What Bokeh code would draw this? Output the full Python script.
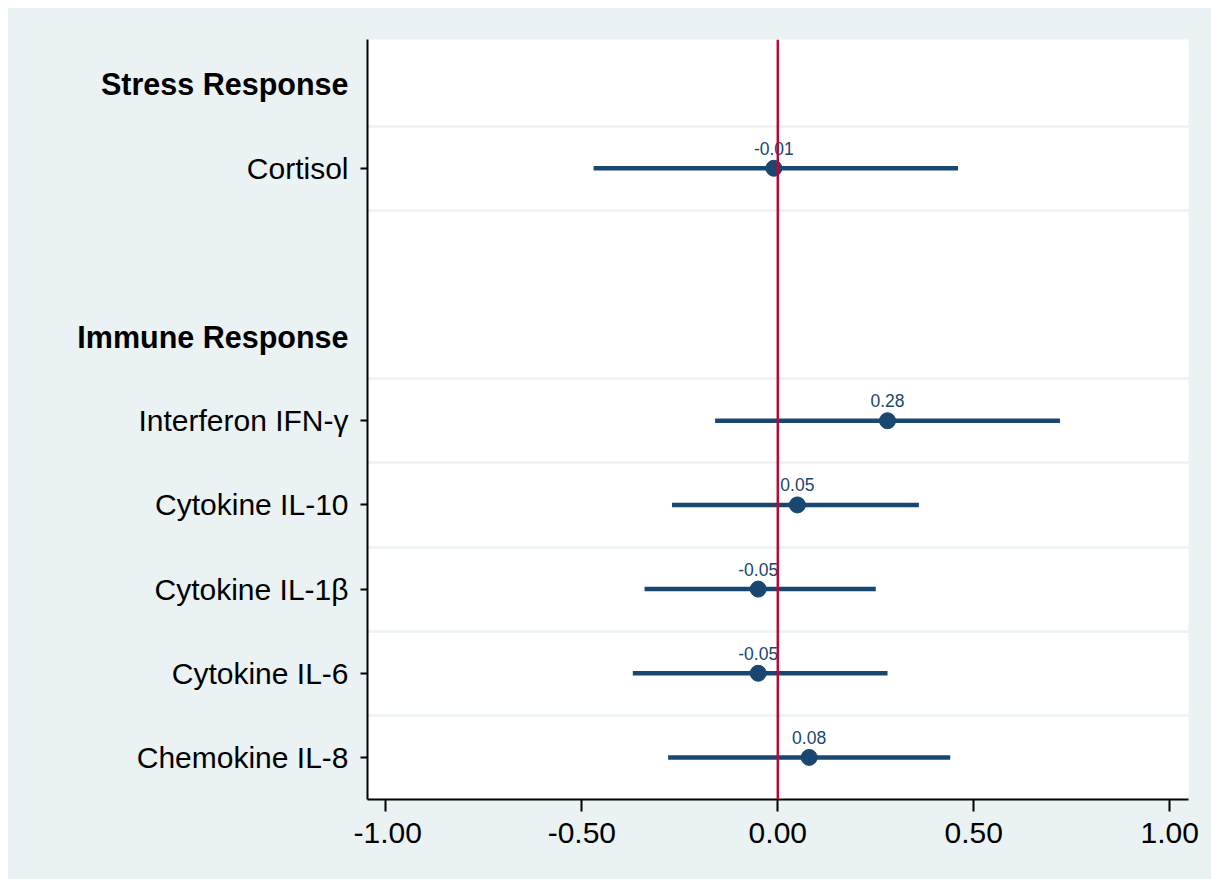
from bokeh.plotting import figure
from bokeh.layouts import row
from bokeh.models import FixedTicker, Span, ColumnDataSource, Range1d
from bokeh.core.properties import value
from bokeh.embed import file_html
from bokeh.resources import INLINE

# ---- data ----
rows = ["Stress Response", "Cortisol", "", "Immune Response",
        "Interferon IFN-γ", "Cytokine IL-10", "Cytokine IL-1β",
        "Cytokine IL-6", "Chemokine IL-8"]
headers = ["Stress Response", "Immune Response"]
items = ["Cortisol", "Interferon IFN-γ", "Cytokine IL-10", "Cytokine IL-1β",
         "Cytokine IL-6", "Chemokine IL-8"]
estimate = [-0.01, 0.28, 0.05, -0.05, -0.05, 0.08]
ci_low = [-0.47, -0.16, -0.27, -0.34, -0.37, -0.28]
ci_high = [0.46, 0.72, 0.36, 0.25, 0.28, 0.44]
est_labels = ["-0.01", "0.28", "0.05", "-0.05", "-0.05", "0.08"]
xticks = [-1.0, -0.5, 0.0, 0.5, 1.0]
xtick_labels = ["-1.00", "-0.50", "0.00", "0.50", "1.00"]

# ---- layout helpers ----
n = len(rows)
pos = {name: n - i for i, name in enumerate(rows)}
item_pos = [pos[k] for k in items]
header_pos = [pos[k] for k in headers]

NAVY = "#1A476F"
RED = "#C10534"
BG = "#EAF2F3"
FONT = "Liberation Sans"

W, H = 1203, 871
TOP, BOTTOM = 31, 80
LEFT_W = 345
AXIS_W = 14

y_start, y_end = 0.5, 9.53
x_start, x_end = -1.047, 1.048
yr = Range1d(y_start, y_end)

# ---- left label panel ----
lp = figure(width=LEFT_W, height=H, output_backend="svg", toolbar_location=None,
            x_range=Range1d(0, 1), y_range=yr, x_axis_location=None,
            y_axis_location=None, min_border_left=0, min_border_right=0,
            min_border_top=TOP, min_border_bottom=BOTTOM)
lp.border_fill_color = BG
lp.background_fill_color = BG
lp.outline_line_color = None
lp.grid.visible = False
lp.text(x=[1.0] * len(items), y=item_pos, text=items, text_align="right",
        text_baseline="middle", x_offset=-5, text_color="black",
        text_font=value(FONT), text_font_size="30px")
lp.text(x=[1.0] * len(headers), y=header_pos, text=headers, text_align="right",
        text_baseline="middle", x_offset=-5, text_color="black",
        text_font=value(FONT), text_font_size="30.5px", text_font_style="bold")

# ---- main plot ----
p = figure(width=W - LEFT_W, height=H, output_backend="svg", toolbar_location=None,
           x_range=Range1d(x_start, x_end), y_range=yr,
           min_border_left=AXIS_W, min_border_right=23, min_border_top=TOP,
           min_border_bottom=BOTTOM)
p.border_fill_color = BG
p.background_fill_color = "white"
p.outline_line_color = None

# grid lines between rows
grid_ticks = sorted(set([y + 0.5 for y in item_pos]) |
                    set([y - 0.5 for y in item_pos if y - 0.5 > y_start]))
p.xgrid.visible = False
p.ygrid.ticker = FixedTicker(ticks=grid_ticks)
p.ygrid.grid_line_color = BG
p.ygrid.grid_line_width = 2.5

# zero line
p.add_layout(Span(location=0, dimension="height", line_color=RED, line_width=2.5))

src = ColumnDataSource(dict(y=item_pos, est=estimate, lo=ci_low, hi=ci_high, lab=est_labels))
p.segment(x0="lo", x1="hi", y0="y", y1="y", source=src, line_color=NAVY,
          line_width=4.5, line_cap="butt")
p.scatter(x="est", y="y", source=src, size=16, fill_color=NAVY, line_color=NAVY)
p.text(x="est", y="y", text="lab", source=src, text_align="center",
       text_baseline="alphabetic", y_offset=-20, text_color=NAVY,
       text_font=value(FONT), text_font_size="17.5px")

# y axis (ticks only; labels are in the left panel)
p.yaxis.ticker = FixedTicker(ticks=item_pos)
p.yaxis.major_label_overrides = {y: "" for y in item_pos}
p.yaxis.major_label_text_font_size = "1px"
p.yaxis.major_tick_out = 7
p.yaxis.major_tick_in = 0
p.yaxis.minor_tick_line_color = None
p.yaxis.major_label_standoff = 0
p.yaxis.axis_line_width = 2
p.yaxis.axis_line_color = "black"
p.yaxis.major_tick_line_width = 2

# x axis
p.xaxis.ticker = FixedTicker(ticks=xticks)
p.xaxis.major_label_overrides = {t: s for t, s in zip(xticks, xtick_labels)}
p.xaxis.major_label_text_font = FONT
p.xaxis.major_label_text_font_size = "30px"
p.xaxis.major_label_text_color = "black"
p.xaxis.major_tick_out = 12
p.xaxis.major_tick_in = 0
p.xaxis.minor_tick_line_color = None
p.xaxis.major_label_standoff = 11
p.xaxis.axis_line_width = 2
p.xaxis.axis_line_color = "black"
p.xaxis.major_tick_line_width = 2

layout = row(lp, p, spacing=0, margin=(8, 0, 0, 8),
             styles={"background-color": BG})
open("out.html", "w").write(file_html(layout, INLINE))
